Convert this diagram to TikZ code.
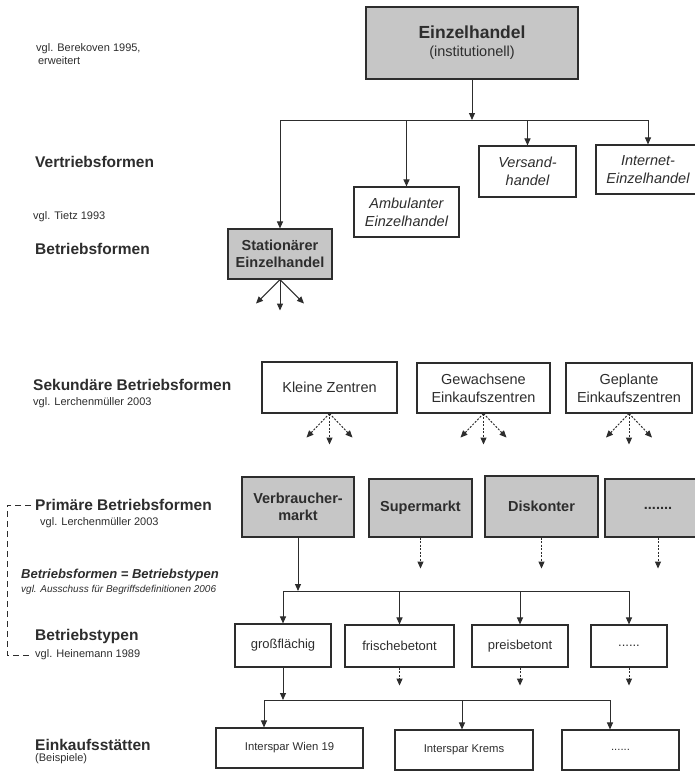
\documentclass[tikz,border=0pt]{standalone}
\usepackage{fontspec}
\setmainfont{Liberation Sans}
\usetikzlibrary{arrows.meta}
\definecolor{ink}{RGB}{45,45,45}
\definecolor{boxgray}{RGB}{198,198,198}

\begin{document}
\begin{tikzpicture}[x=1pt,y=-1pt,
 box/.style={draw=ink,line width=1.1pt,align=center,inner sep=2pt,text=ink,font=\fontsize{14.5}{18}\selectfont},
 greybox/.style={box,fill=boxgray,font=\fontsize{14.5}{17}\selectfont\bfseries},
 italbox/.style={box,font=\fontsize{14.5}{18}\selectfont\itshape},
 typbox/.style={box,font=\fontsize{13}{16}\selectfont},
 shop/.style={box,font=\fontsize{11.3}{14}\selectfont},
 lbl/.style={anchor=west,inner sep=0pt,text=ink,font=\fontsize{15.5}{18}\selectfont\bfseries},
 src/.style={anchor=west,inner sep=0pt,text=ink,font=\fontsize{11}{13}\selectfont},
 bus/.style={line width=1pt,draw=ink},
 arr/.style={-{Triangle[length=7pt,width=6pt]},line width=1pt,draw=ink},
 dotarr/.style={arr,dash pattern=on 2pt off 1.5pt},
 brk/.style={draw=ink,line width=1pt,dash pattern=on 6pt off 4pt}]
\useasboundingbox (0,0) rectangle (694,771);

\node[greybox,minimum width=212pt,minimum height=72pt] (top) at (472,43) {{\fontsize{17.5}{21}\selectfont Einzelhandel}\\[1pt]{\mdseries (institutionell)}};
\node[greybox,minimum width=104pt,minimum height=50pt] (stat) at (280,254) {Stationärer\\Einzelhandel};
\node[italbox,minimum width=105pt,minimum height=50pt] (amb) at (406.5,212) {Ambulanter\\Einzelhandel};
\node[italbox,minimum width=97pt,minimum height=51pt] (vers) at (527.5,171.5) {Versand-\\handel};
\node[italbox,minimum width=104pt,minimum height=49pt] (inet) at (648,169.5) {Internet-\\Einzelhandel};

\node[box,minimum width=135pt,minimum height=51pt] (kz) at (329.5,387.5) {Kleine Zentren};
\node[box,minimum width=133pt,minimum height=50pt] (gew) at (483.5,388) {Gewachsene\\Einkaufszentren};
\node[box,minimum width=126pt,minimum height=50pt] (gepl) at (629,388) {Geplante\\Einkaufszentren};

\node[greybox,minimum width=112pt,minimum height=60pt] (vm) at (298,507) {Verbraucher-\\markt};
\node[greybox,minimum width=103pt,minimum height=58pt] (sm) at (420.5,508) {Supermarkt};
\node[greybox,minimum width=113pt,minimum height=61pt] (disk) at (541.5,506.5) {Diskonter};
\node[greybox,minimum width=106pt,minimum height=58pt] (pdots) at (658,508) {.......};

\node[typbox,minimum width=96pt,minimum height=43pt] (gf) at (283,645.5) {großflächig};
\node[typbox,minimum width=109pt,minimum height=42pt] (fb) at (399.5,646) {frischebetont};
\node[typbox,minimum width=96pt,minimum height=42pt] (pb) at (520,646) {preisbetont};
\node[typbox,minimum width=76pt,minimum height=42pt] (tdots) at (629,646) {......};

\node[shop,minimum width=147pt,minimum height=40pt] (iw) at (289.5,748) {Interspar Wien 19};
\node[shop,minimum width=138pt,minimum height=40pt] (ik) at (464,750) {Interspar Krems};
\node[shop,minimum width=117pt,minimum height=40pt] (sdots) at (620.5,750) {......};

\coordinate (b1) at (472,120);
\draw[arr] (top) -- (b1);
\draw[bus] (b1 -| stat) -- (b1 -| inet);
\foreach \n in {stat,amb,vers,inet} \draw[arr] (b1 -| \n) -- (\n);
\foreach \dx/\dy in {-24/24,0/31,24/24} \draw[arr] (stat.south) -- ++(\dx,\dy);
\foreach \n in {kz,gew,gepl} \foreach \dx/\dy in {-23/24,0/31,23/24} \draw[dotarr] (\n.south) -- ++(\dx,\dy);

\coordinate (b2) at (298,591);
\draw[arr] (vm) -- (b2);
\draw[bus] (b2 -| gf) -- (b2 -| tdots);
\foreach \n in {gf,fb,pb,tdots} \draw[arr] (b2 -| \n) -- (\n);
\foreach \n in {sm,disk,pdots} \draw[dotarr] (\n.south) -- ++(0,31);

\coordinate (b3) at (283,700);
\coordinate (s1) at (264,700);
\coordinate (s2) at (462,700);
\coordinate (s3) at (610,700);
\draw[arr] (gf) -- (b3);
\draw[bus] (s1) -- (s3);
\draw[arr] (s1) -- (s1 |- iw.north);
\draw[arr] (s2) -- (s2 |- ik.north);
\draw[arr] (s3) -- (s3 |- sdots.north);
\foreach \n in {fb,pb,tdots} \draw[dotarr] (\n.south) -- ++(0,18);

\node[src,align=left] (ber) at (36,54) {vgl. Berekoven 1995,\\\,erweitert};
\node[lbl] (vtf) at (35,162) {Vertriebsformen};
\node[src] (tietz) at (33,217) {vgl. Tietz 1993};
\node[lbl] (btf) at (35,249) {Betriebsformen};
\node[lbl] (sek) at (33,385) {Sekundäre Betriebsformen};
\node[src] (lerch1) at (33,403) {vgl. Lerchenmüller 2003};
\node[lbl] (prim) at (35,505) {Primäre Betriebsformen};
\node[src] (lerch2) at (40,523) {vgl. Lerchenmüller 2003};
\node[lbl,font=\fontsize{13}{15}\selectfont\bfseries\itshape] (gleich) at (21,575) {Betriebsformen = Betriebstypen};
\node[src,font=\fontsize{10}{12}\selectfont\itshape] (aus) at (21,590) {vgl. Ausschuss für Begriffsdefinitionen 2006};
\node[lbl] (btt) at (35,636) {Betriebstypen};
\node[src] (heine) at (35,655) {vgl. Heinemann 1989};
\node[lbl] (eks) at (35,745) {Einkaufsstätten};
\node[src] (bsp) at (35,759) {(Beispiele)};
\draw[brk] ([xshift=-4pt]prim.west) -| ([xshift=-28pt]heine.west) -- ([xshift=-4pt]heine.west);
\end{tikzpicture}
\end{document}
